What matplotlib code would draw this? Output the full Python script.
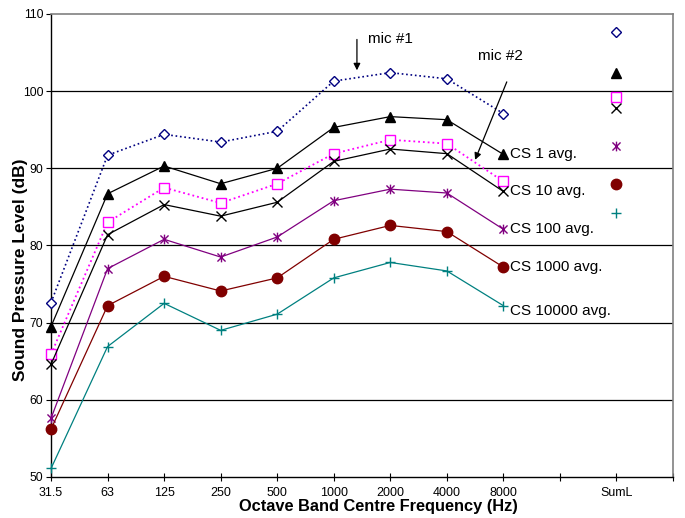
import numpy as np
import matplotlib
matplotlib.use("Agg")
import matplotlib.pyplot as plt
from matplotlib.path import Path

plt.rcParams['font.family'] = ['Liberation Sans', 'DejaVu Sans']

categories = ["31.5", "63", "125", "250", "500", "1000", "2000", "4000", "8000", "", "SumL"]

mic1_cs1 = [72.6, 91.7, 94.4, 93.4, 94.8, 101.3, 102.4, 101.6, 97.1]
mic1_cs1_sum = 107.7
cs1 = [69.5, 86.7, 90.3, 88.0, 90.0, 95.3, 96.7, 96.3, 91.8]
cs1_sum = 102.3
mic2_cs10 = [65.9, 83.0, 87.5, 85.5, 88.0, 91.9, 93.7, 93.2, 88.3]
mic2_cs10_sum = 99.2
cs10 = [64.6, 81.4, 85.3, 83.8, 85.6, 90.9, 92.5, 91.9, 87.0]
cs10_sum = 97.8
cs100 = [57.6, 77.0, 80.8, 78.5, 81.1, 85.8, 87.3, 86.8, 82.1]
cs100_sum = 92.9
cs1000 = [56.2, 72.2, 76.0, 74.1, 75.8, 80.8, 82.6, 81.8, 77.2]
cs1000_sum = 88.0
cs10000 = [51.1, 66.9, 72.5, 69.0, 71.1, 75.8, 77.8, 76.7, 72.2]
cs10000_sum = 84.2

# Excel-style asterisk: x with a vertical bar
star_path = Path([(-1, -1), (1, 1), (-1, 1), (1, -1), (0, -1.2), (0, 1.2)],
                 [Path.MOVETO, Path.LINETO, Path.MOVETO, Path.LINETO, Path.MOVETO, Path.LINETO])

series = [
    (mic1_cs1, mic1_cs1_sum, dict(color='#000080', ls=':', marker='D', mfc='white', ms=5, lw=1.2), None),
    (cs1, cs1_sum, dict(color='black', ls='-', marker='^', mfc='black', ms=6.5, lw=0.9), "CS 1 avg."),
    (mic2_cs10, mic2_cs10_sum, dict(color='#FF00FF', ls=':', marker='s', mfc='white', ms=7, lw=1.3), None),
    (cs10, cs10_sum, dict(color='black', ls='-', marker='x', ms=6.5, lw=0.9), "CS 10 avg."),
    (cs100, cs100_sum, dict(color='#800080', ls='-', marker=star_path, ms=7, lw=0.9), "CS 100 avg."),
    (cs1000, cs1000_sum, dict(color='#800000', ls='-', marker='o', mfc='#800000', ms=7.5, lw=0.9), "CS 1000 avg."),
    (cs10000, cs10000_sum, dict(color='#008080', ls='-', marker='+', ms=7, lw=0.9), "CS 10000 avg."),
]

fig = plt.figure(figsize=(6.85, 5.18), dpi=100)
ax = fig.add_axes([0.0745, 0.0792, 0.908, 0.8938])

x = np.arange(len(categories[:9]))
sum_x = categories.index("SumL")
for vals, s, st, label in series:
    ax.plot(x, vals, mew=1.0, mec=st['color'], **st, zorder=3, clip_on=False)
    pst = dict(st)
    pst['ls'] = 'none'
    ax.plot([sum_x], [s], mew=1.0, mec=st['color'], **pst, zorder=3, clip_on=False)
    if label:
        off = -4 if label == "CS 10000 avg." else 0
        ax.annotate(label, xy=(x[-1], vals[-1]), xytext=(4.5, off), textcoords='offset points',
                    ha='left', va='center', fontsize=11)

# annotations
ax.annotate("", xy=(5.41, 102.7), xytext=(5.41, 106.7),
            arrowprops=dict(arrowstyle='-|>', color='black', lw=0.9, mutation_scale=10, shrinkA=0, shrinkB=0))
ax.text(5.6, 106.8, "mic #1", fontsize=11, ha='left', va='center')
ax.annotate("", xy=(7.50, 91.1), xytext=(8.06, 101.2),
            arrowprops=dict(arrowstyle='-|>', color='black', lw=0.9, mutation_scale=10, shrinkA=0, shrinkB=0))
ax.text(7.55, 104.55, "mic #2", fontsize=11, ha='left', va='center')

ax.set_xlim(0, len(categories))
ax.set_ylim(50, 110)
ax.set_yticks(np.arange(50, 111, 10))
ax.set_xticks(np.arange(len(categories) + 1))
ax.set_xticklabels(categories + [""], fontsize=9)
ax.tick_params(axis='y', labelsize=8.8, direction='out', length=3.6, width=0.8, pad=2)
ax.tick_params(axis='x', direction='inout', length=6, width=0.8, pad=4)

for yv in range(60, 110, 10):
    ax.axhline(yv, color='black', lw=0.9, zorder=1)

for sp in ['top', 'right']:
    ax.spines[sp].set_color('#808080')
    ax.spines[sp].set_linewidth(1.2)
for sp in ['left', 'bottom']:
    ax.spines[sp].set_color('black')
    ax.spines[sp].set_linewidth(1.0)

ax.set_xlabel("Octave Band Centre Frequency (Hz)", fontsize=11.8, fontweight='bold')
ax.xaxis.set_label_coords(0.526, -0.048)
ax.set_ylabel("Sound Pressure Level (dB)", fontsize=12.5, fontweight='bold')
ax.yaxis.set_label_coords(-0.037, 0.448)

fig.savefig("out.png", dpi=100)
